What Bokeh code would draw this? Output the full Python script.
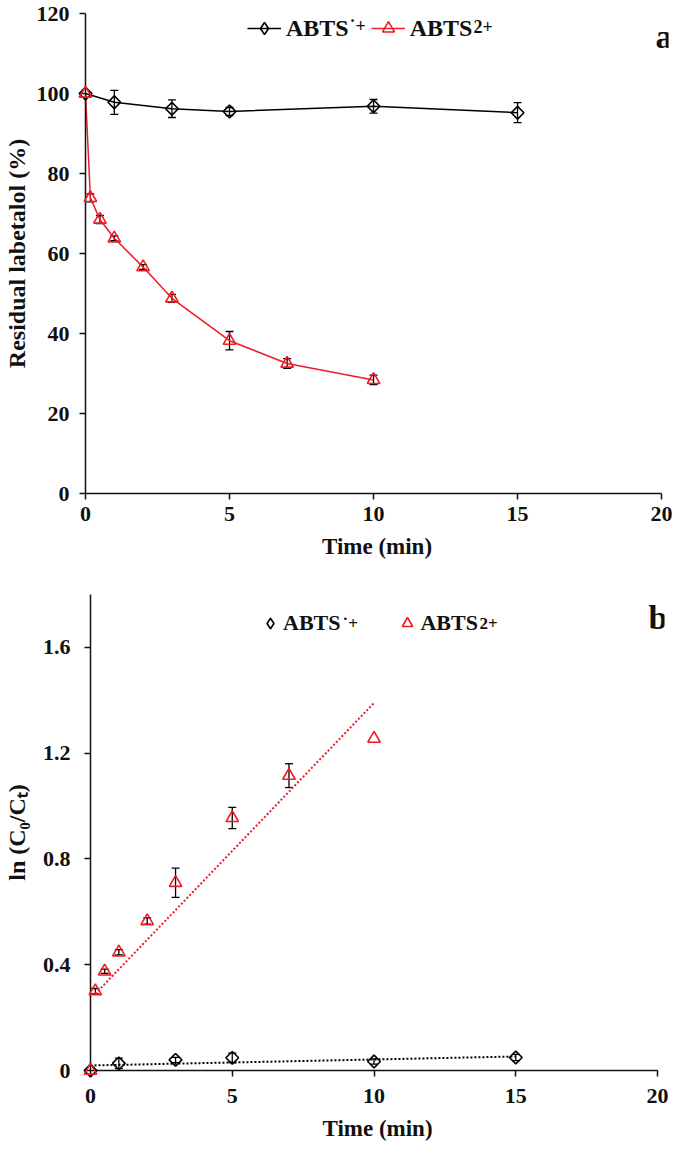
import math
from bokeh.plotting import figure
from bokeh.models import (Range1d, FixedTicker, Whisker, TeeHead, ColumnDataSource,
                          Legend, LegendItem, Label, CustomJSTickFormatter)
from bokeh.layouts import column
from bokeh.embed import file_html
from bokeh.resources import INLINE

# ---------------- data ----------------
time_rad = [0, 1, 3, 5, 10, 15]
resid_rad = [100, 97.8, 96.2, 95.5, 96.8, 95.2]
resid_rad_err = [0, 3.0, 2.2, 1.0, 1.7, 2.5]

time_di = [0, 0.17, 0.5, 1, 2, 3, 5, 7, 10]
resid_di = [100, 73.9, 68.5, 63.8, 56.6, 48.8, 38.2, 32.5, 28.4]
resid_di_err = [0, 1.0, 1.0, 0.6, 0.6, 1.0, 2.3, 1.2, 1.2]

ln_rad = [0, 0.027, 0.040, 0.048, 0.034, 0.049]
ln_rad_err = [0, 0.02, 0.01, 0.018, 0.01, 0.012]

ln_di = [0, 0.30, 0.375, 0.447, 0.565, 0.71, 0.955, 1.115, 1.255]
ln_di_err = [0, 0.01, 0.008, 0.01, 0.012, 0.055, 0.04, 0.045, 0]

fit_rad_t = [0, 15]
fit_rad_y = [0.019, 0.053]
fit_di_t = [0.17, 10]
fit_di_y = [0.29, 1.39]

x_ticks = [0, 5, 10, 15, 20]
y_ticks_a = [0, 20, 40, 60, 80, 100, 120]
y_ticks_b = [0, 0.4, 0.8, 1.2, 1.6]

RED = "#ee1c24"
INK = "#111111"
FONT = "Liberation Serif"


def style(p, ystand, ylab_stand, xstand, xlab_stand):
    p.outline_line_color = None
    p.grid.visible = False
    p.frame_align = False
    for ax in p.axis:
        ax.axis_line_width = 1.5
        ax.axis_line_color = INK
        ax.major_tick_line_width = 1.5
        ax.major_tick_line_color = INK
        ax.major_tick_out = 6
        ax.major_tick_in = 0
        ax.minor_tick_line_color = None
        ax.major_label_text_font = FONT
        ax.major_label_text_font_style = "bold"
        ax.major_label_text_font_size = "22px"
        ax.major_label_text_color = INK
        ax.axis_label_text_font = FONT
        ax.axis_label_text_font_style = "bold"
        ax.axis_label_text_color = INK
    p.yaxis.major_label_standoff = ystand
    p.yaxis.axis_label_standoff = ylab_stand
    p.yaxis.axis_label_text_font_size = "24px"
    p.xaxis.major_label_standoff = xstand
    p.xaxis.axis_label_standoff = xlab_stand
    p.xaxis.axis_label_text_font_size = "23px"
    p.xaxis.ticker = FixedTicker(ticks=x_ticks)
    p.xaxis.bounds = (x_ticks[0], x_ticks[-1])
    # an off-screen range used only by legend-swatch renderers
    p.extra_y_ranges = {"swatch": Range1d(start=-1000, end=-999)}


def whisk(p, xs, ys, es):
    xx, up, lo = [], [], []
    for x, y, e in zip(xs, ys, es):
        if e > 0:
            xx.append(x)
            up.append(y + e)
            lo.append(y - e)
    src = ColumnDataSource(dict(x=xx, up=up, lo=lo))
    w = Whisker(source=src, base="x", upper="up", lower="lo",
                line_color="black", line_width=1.3,
                upper_head=TeeHead(size=8, line_color="black", line_width=1.3),
                lower_head=TeeHead(size=8, line_color="black", line_width=1.3))
    p.add_layout(w)


def label(p, txt, x, y, size, color=INK):
    p.add_layout(Label(x=x, y=y, x_units="screen", y_units="screen", text=txt,
                       text_font=FONT, text_font_style="bold", text_font_size=size,
                       text_color=color, text_baseline="alphabetic", level="overlay"))


def legend_diamond(p, xs, ys):
    # same data on an off-screen range: only its legend swatch is visible
    return p.scatter(xs, ys, y_range_name="swatch", marker="diamond",
                     line_color="black", fill_color=None, line_width=1.6)


# ---------------- panel a ----------------
p1 = figure(width=675, height=574, x_range=Range1d(0, 20.24), y_range=Range1d(0, 120),
            output_backend="svg", toolbar_location=None,
            min_border_left=80, min_border_right=7, min_border_top=13, min_border_bottom=81,
            x_axis_label="Time (min)", y_axis_label="Residual labetalol (%)")
style(p1, 10, 4, 7, 10)
p1.yaxis.ticker = FixedTicker(ticks=y_ticks_a)

l_rad = p1.line(time_rad, resid_rad, line_color="black", line_width=1.5)
s_rad = p1.scatter(time_rad, resid_rad, marker="square", angle=math.pi / 4, size=9,
                   line_color="black", fill_color=None, line_width=1.6, level="overlay")
l_di = p1.line(time_di, resid_di, line_color=RED, line_width=1.5)
s_di = p1.scatter(time_di, resid_di, marker="triangle", size=12.5, line_color=RED,
                  fill_color=None, line_width=1.6, level="overlay")
d_rad = legend_diamond(p1, time_rad, resid_rad)
whisk(p1, time_rad, resid_rad, resid_rad_err)
whisk(p1, time_di, resid_di, resid_di_err)

leg_a = Legend(items=[LegendItem(label="ABTS", renderers=[l_rad, d_rad]),
                      LegendItem(label="ABTS", renderers=[l_di, s_di])],
               location=(162, 450), orientation="horizontal",
               glyph_width=34, glyph_height=30, label_standoff=5, spacing=22,
               padding=0, margin=0, border_line_color=None, background_fill_alpha=0,
               label_text_font=FONT, label_text_font_style="bold",
               label_text_font_size="24px", label_text_color=INK)
p1.add_layout(leg_a)
label(p1, "\u02d9+", 264, 468, "18px")
label(p1, "2+", 388, 467, "18px")
label(p1, "a", 570, 457, "34px")

# ---------------- panel b ----------------
p2 = figure(width=675, height=574, x_range=Range1d(0, 20.245), y_range=Range1d(0, 1.8),
            output_backend="svg", toolbar_location=None,
            min_border_left=85, min_border_right=11, min_border_top=20, min_border_bottom=78,
            x_axis_label="Time (min)", y_axis_label="ln (C\u2080/C\u209c)")
style(p2, 14, 10, 12, 10)
p2.yaxis.ticker = FixedTicker(ticks=y_ticks_b)
p2.yaxis.formatter = CustomJSTickFormatter(code="return tick == 0 ? '0' : tick.toFixed(1);")

p2.line(fit_rad_t, fit_rad_y, line_color="black", line_width=2, line_dash="2 2")
p2.line(fit_di_t, fit_di_y, line_color=RED, line_width=2, line_dash="2 2")
s_rad_b = p2.scatter(time_rad, ln_rad, marker="square", angle=math.pi / 4, size=9,
                     line_color="black", fill_color=None, line_width=1.6, level="overlay")
s_di_b = p2.scatter(time_di, ln_di, marker="triangle", size=12.5, line_color=RED,
                    fill_color=None, line_width=1.6, level="overlay")
d_rad_b = legend_diamond(p2, time_rad, ln_rad)
whisk(p2, time_rad, ln_rad, ln_rad_err)
whisk(p2, time_di, ln_di, ln_di_err)

leg_b = Legend(items=[LegendItem(label="ABTS", renderers=[d_rad_b]),
                      LegendItem(label="ABTS", renderers=[s_di_b])],
               location=(167, 432), orientation="horizontal",
               glyph_width=26, glyph_height=30, label_standoff=0, spacing=54,
               padding=0, margin=0, border_line_color=None, background_fill_alpha=0,
               label_text_font=FONT, label_text_font_style="bold",
               label_text_font_size="22px", label_text_color=INK)
p2.add_layout(leg_b)
label(p2, "\u02d9+", 252, 447, "17px")
label(p2, "2+", 389, 447, "17px")
label(p2, "b", 558, 453, "34px")

layout = column(p1, p2)
open("out.html", "w").write(file_html(layout, INLINE))
